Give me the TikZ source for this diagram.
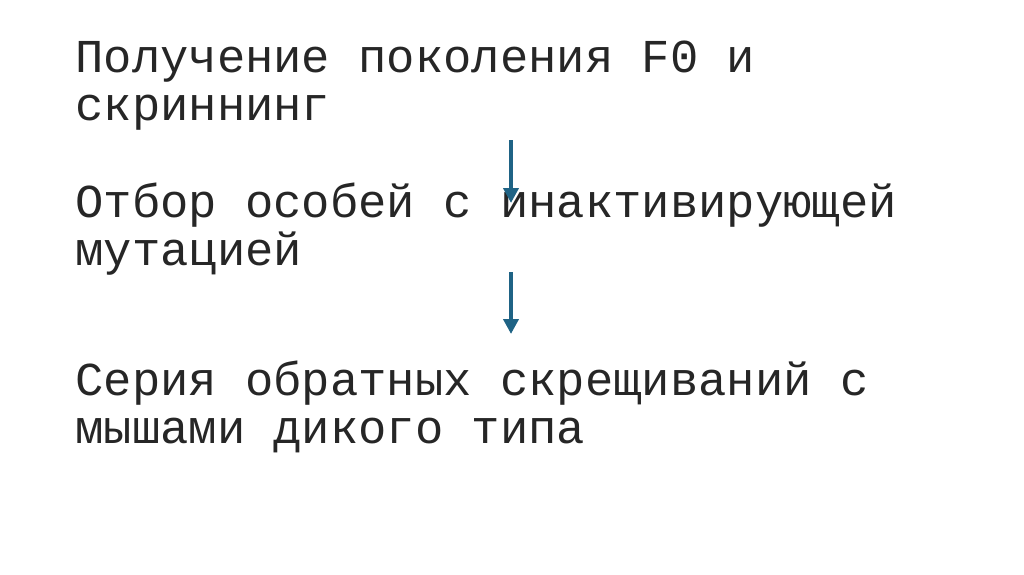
\documentclass[tikz,border=0pt]{standalone}
\usepackage{fontspec}
\setmainfont{Liberation Mono}
\usetikzlibrary{arrows.meta}
\def\TextColor{rgb,255:red,38;green,38;blue,38}
\def\ArrowColor{rgb,255:red,31;green,99;blue,133}

\begin{document}
\begin{tikzpicture}[x=0.5pt,y=-0.5pt]
\tikzstyle{stage} = [anchor=base west, inner sep=0pt, align=left, text=\TextColor, font=\fontsize{23.6}{24}\selectfont]
\tikzstyle{connector} = [draw=\ArrowColor, line width=2.3pt, -{Triangle[length=7.5pt,width=7.5pt]}]

\useasboundingbox (0,0) rectangle (1024,574);

\node [stage] at (75,120) (f0) {Получение поколения F0 и\\скриннинг};
\node [stage] at (75,265) (sel) {Отбор особей с инактивирующей\\мутацией};
\node [stage] at (75,443) (cross) {Серия обратных скрещиваний с\\мышами дикого типа};

\coordinate (a1s) at (511,140);
\coordinate (a1e) at (511,203);
\coordinate (a2s) at (511,272);
\coordinate (a2e) at (511,334);

\path [connector] (a1s) -- (a1e);
\path [connector] (a2s) -- (a2e);

\end{tikzpicture}
\end{document}
